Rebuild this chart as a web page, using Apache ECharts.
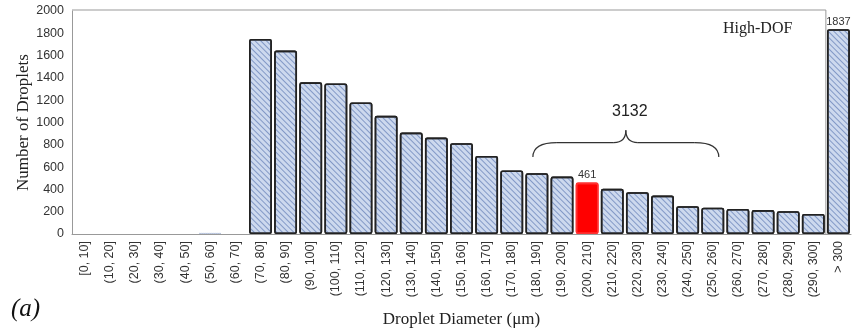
<!DOCTYPE html>
<html>
<head>
<meta charset="utf-8">
<script src="https://cdn.jsdelivr.net/npm/echarts@6/dist/echarts.min.js"></script>
<style>
html,body{margin:0;padding:0;background:#fff;}
#c{width:856px;height:335px;}
</style>
</head>
<body>
<div id="c"></div>
<script>
const categories = ['[0, 10]','(10, 20]','(20, 30]','(30, 40]','(40, 50]','(50, 60]','(60, 70]','(70, 80]','(80, 90]','(90, 100]','(100, 110]','(110, 120]','(120, 130]','(130, 140]','(140, 150]','(150, 160]','(160, 170]','(170, 180]','(180, 190]','(190, 200]','(200, 210]','(210, 220]','(220, 230]','(230, 240]','(240, 250]','(250, 260]','(260, 270]','(270, 280]','(280, 290]','(290, 300]','> 300'];
const counts = [0,0,0,0,0,10,0,1750,1645,1360,1350,1180,1060,910,865,815,700,570,545,515,461,405,375,345,250,236,225,215,205,180,1837];
const yTicks = [0,200,400,600,800,1000,1200,1400,1600,1800,2000];
const highlightIndex = 20;
const labeledIndices = [20, 30];
const braceStart = 18, braceEnd = 25;
const braceLabel = '3132';
const panelTitle = 'High-DOF';
const panelTag = '(a)';

const chart = echarts.init(document.getElementById('c'), null, {renderer:'canvas'});
const hatch = {
  symbol:'rect', symbolSize:1,
  dashArrayX:[1,0], dashArrayY:[1,2.2],
  rotation: Math.PI/4,
  color:'rgba(70,100,165,0.55)'
};
const noHatch = {symbol:'rect', symbolSize:1, dashArrayX:[1,0], dashArrayY:[1,2.2], color:'rgba(0,0,0,0)'};
const lbl = {show:true, position:'top', distance:2, color:'#333', fontSize:11, fontFamily:'Liberation Sans'};
const data = counts.map((v,i)=>{
  if (i === highlightIndex) {
    return {value:v, itemStyle:{color:'#ff0000', borderColor:'#ff3030', decal:noHatch}, label:lbl};
  }
  if (v === 0) {
    return {value:v, itemStyle:{color:'rgba(0,0,0,0)', borderWidth:0, decal:noHatch}};
  }
  if (v < 50) {
    return {value:v, itemStyle:{color:'rgba(0,0,0,0)', borderColor:'#b8c4dc', borderType:'dotted', borderWidth:1, decal:noHatch}};
  }
  const o = {value:v};
  if (labeledIndices.includes(i)) o.label = lbl;
  return o;
});

chart.setOption({
  animation:false,
  grid:{left:72, right:5, top:11, bottom:101},
  xAxis:{
    type:'category', data:categories,
    name:'Droplet Diameter (\u03bcm)', nameLocation:'middle', nameGap:77,
    nameTextStyle:{fontFamily:'Liberation Serif', fontSize:17, color:'#222'},
    axisLine:{show:true, lineStyle:{color:'#999', width:1}},
    axisTick:{show:false},
    axisLabel:{rotate:90, interval:0, margin:7, fontFamily:'Liberation Sans', fontSize:12.5, color:'#333'}
  },
  yAxis:{
    type:'value', min:yTicks[0], max:yTicks[yTicks.length-1], interval:200,
    name:'Number of Droplets', nameLocation:'middle', nameGap:40, nameMoveOverlap:false,
    nameTextStyle:{fontFamily:'Liberation Serif', fontSize:17, color:'#222'},
    axisLine:{show:true, lineStyle:{color:'#999', width:1}},
    axisTick:{show:false},
    splitLine:{show:false},
    axisLabel:{margin:8, fontFamily:'Liberation Sans', fontSize:12.5, color:'#333', formatter:(v)=>String(v)}
  },
  series:[{
    type:'bar', data:data, barCategoryGap:'9%',
    itemStyle:{color:'#cdd9ee', borderColor:'#222', borderWidth:1.6, borderRadius:1.5, decal:hatch},
    label:{show:false}
  }]
});

function px(ci, v){ return chart.convertToPixel({seriesIndex:0}, [ci, v]); }
const pTL = px(0, 2000);
const step = px(1,0)[0]-px(0,0)[0];
const x0 = pTL[0] - step/2;
const yTop = pTL[1] - 1;
const xR = (px(29,0)[0] + px(30,0)[0]) / 2;
const yBot = px(0,0)[1];

const b1 = px(braceStart, 690), b2 = px(braceEnd, 690);
const xa = b1[0] - 4, xb = b2[0] + 6, xm = (xa+xb)/2;
const yEnd = b1[1], yMid = px(0, 820)[1], yCusp = px(0, 930)[1];
const tpos = px(0, 1100);
const bs = {stroke:'#333', lineWidth:1.2, fill:null};
function bz(x1,y1,cx,cy,x2,y2){ return {type:'bezierCurve', silent:true, shape:{x1:x1,y1:y1,cpx1:cx,cpy1:cy,x2:x2,y2:y2}, style:bs}; }
function ln(x1,y1,x2,y2){ return {type:'line', silent:true, shape:{x1:x1,y1:y1,x2:x2,y2:y2}, style:bs}; }

chart.setOption({
  graphic:[
    {type:'polyline', silent:true, z:-1, shape:{points:[[x0,yTop],[xR,yTop],[xR,yBot]]}, style:{stroke:'#999', lineWidth:1, fill:null}},
    bz(xa,yEnd, xa,yMid, xa+24,yMid),
    ln(xa+24,yMid, xm-12,yMid),
    bz(xm-12,yMid, xm,yMid, xm,yCusp),
    bz(xm,yCusp, xm,yMid, xm+12,yMid),
    ln(xm+12,yMid, xb-24,yMid),
    bz(xb-24,yMid, xb,yMid, xb,yEnd),
    {type:'text', silent:true, x:xm+4, y:tpos[1], style:{text:braceLabel, fontFamily:'Liberation Sans', fontSize:16, fill:'#222', align:'center', verticalAlign:'middle'}},
    {type:'text', silent:true, x:723, y:21, style:{text:panelTitle, fontFamily:'Liberation Serif', fontSize:16, fill:'#222'}},
    {type:'text', silent:true, x:11, y:297, style:{text:panelTag, fontFamily:'Liberation Serif', fontStyle:'italic', fontSize:25, fill:'#111'}}
  ]
});
</script>
</body>
</html>
